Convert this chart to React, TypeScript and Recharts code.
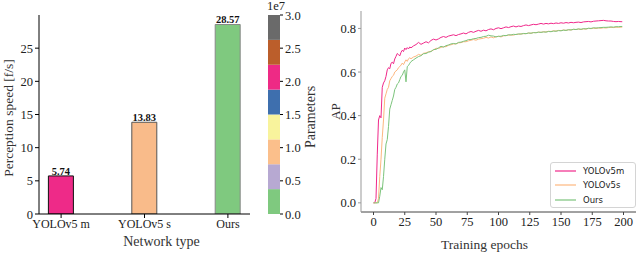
import React from 'react';
import {
  BarChart, Bar, XAxis, YAxis, Cell, LabelList, Label,
  LineChart, Line, Legend,
} from 'recharts';

// ---------- Left panel data ----------
const models = ['YOLOv5 m', 'YOLOv5 s', 'Ours'];
const speeds = [5.74, 13.83, 28.57];
const barColors = ['#ee2a88', '#f9bb8a', '#7fc97f'];
const barEdges = ['#111111', '#555555', '#888888'];
const speedTicks = [0, 5, 10, 15, 20, 25];

// colorbar (units of 1e7)
const cbSegment = [0.375, 0.375, 0.375, 0.375, 0.375, 0.375, 0.375, 0.375];
const cbColors = ['#7fc97f', '#b7a9d2', '#fbbf8b', '#f8f39c', '#3e6fae', '#ee2a85', '#bb5e2b', '#6a6a6a'];
const cbTicks = [0, 0.5, 1.0, 1.5, 2.0, 2.5, 3.0];

// ---------- Right panel data ----------
const epochs = [
  0, 1, 2, 3, 4, 5, 6, 7, 8, 9, 10, 11, 12, 13, 14, 15, 16, 17, 18, 19, 20, 21, 22, 23, 24, 25, 26, 27, 28, 29,
  30, 32, 34, 36, 38, 40, 42, 44, 46, 48, 50, 52, 54, 56, 58, 60, 62, 64, 66, 68, 70, 72, 74, 76, 78, 80,
  82, 84, 86, 88, 90, 92, 94, 96, 98, 100, 102, 104, 106, 108, 110, 112, 114, 116, 118, 120, 122, 124, 126, 128, 130,
  132, 134, 136, 138, 140, 142, 144, 146, 148, 150, 152, 154, 156, 158, 160, 162, 164, 166, 168, 170, 172, 174, 176, 178, 180,
  182, 184, 186, 188, 190, 192, 194, 196, 198, 199,
];
const apYolov5m = [
  0.0, 0.0, 0.02, 0.22, 0.38, 0.40, 0.39, 0.53, 0.55, 0.56, 0.58, 0.61, 0.62, 0.615, 0.64, 0.645, 0.638, 0.66, 0.672, 0.685, 0.68, 0.674, 0.69, 0.70, 0.694, 0.71, 0.703, 0.712, 0.706, 0.715,
  0.711, 0.72, 0.726, 0.736, 0.727, 0.733, 0.739, 0.734, 0.745, 0.751, 0.747, 0.752, 0.759, 0.763, 0.759, 0.765, 0.768, 0.771, 0.767, 0.772, 0.775, 0.779, 0.775, 0.782, 0.786, 0.782,
  0.787, 0.791, 0.787, 0.792, 0.789, 0.795, 0.798, 0.794, 0.80, 0.803, 0.799, 0.803, 0.807, 0.804, 0.808, 0.811, 0.807, 0.811, 0.809, 0.813, 0.816, 0.813, 0.816, 0.819, 0.817,
  0.82, 0.823, 0.82, 0.823, 0.821, 0.824, 0.822, 0.825, 0.823, 0.826, 0.824, 0.827, 0.825, 0.828, 0.826, 0.828, 0.829, 0.827, 0.83, 0.831, 0.832, 0.83, 0.833, 0.834, 0.835,
  0.836, 0.837, 0.835, 0.834, 0.834, 0.832, 0.831, 0.832, 0.831, 0.831,
];
const apYolov5s = [
  0.0, 0.0, 0.0, 0.0, 0.02, 0.12, 0.20, 0.30, 0.38, 0.48, 0.50, 0.52, 0.53, 0.56, 0.57, 0.58, 0.585, 0.60, 0.605, 0.61, 0.62, 0.625, 0.632, 0.641, 0.634, 0.646, 0.656, 0.649, 0.661, 0.665,
  0.661, 0.669, 0.673, 0.681, 0.677, 0.686, 0.688, 0.693, 0.695, 0.701, 0.709, 0.708, 0.713, 0.717, 0.716, 0.723, 0.725, 0.729, 0.729, 0.734, 0.735, 0.739, 0.739, 0.743, 0.746, 0.749,
  0.746, 0.751, 0.753, 0.755, 0.759, 0.756, 0.761, 0.757, 0.762, 0.764, 0.761, 0.766, 0.767, 0.769, 0.77, 0.769, 0.773, 0.773, 0.775, 0.776, 0.776, 0.779, 0.778, 0.781, 0.781,
  0.783, 0.782, 0.785, 0.784, 0.787, 0.786, 0.789, 0.788, 0.791, 0.79, 0.793, 0.791, 0.794, 0.793, 0.796, 0.795, 0.797, 0.795, 0.798, 0.797, 0.8, 0.799, 0.801, 0.8, 0.802,
  0.801, 0.803, 0.802, 0.804, 0.805, 0.804, 0.806, 0.805, 0.806, 0.806,
];
const apOurs = [
  0.0, 0.0, 0.0, 0.0, 0.0, 0.03, 0.07, 0.06, 0.12, 0.20, 0.27, 0.29, 0.35, 0.43, 0.45, 0.47, 0.49, 0.52, 0.53, 0.545, 0.55, 0.565, 0.58, 0.585, 0.60, 0.61, 0.555, 0.625, 0.63, 0.64,
  0.648, 0.656, 0.664, 0.671, 0.675, 0.684, 0.685, 0.691, 0.694, 0.703, 0.704, 0.711, 0.718, 0.714, 0.721, 0.724, 0.729, 0.731, 0.729, 0.736, 0.737, 0.741, 0.744, 0.749, 0.749, 0.753,
  0.754, 0.758, 0.759, 0.763, 0.764, 0.769, 0.766, 0.765, 0.761, 0.764, 0.764, 0.768, 0.767, 0.771, 0.77, 0.773, 0.772, 0.775, 0.774, 0.777, 0.776, 0.779, 0.778, 0.781, 0.78,
  0.783, 0.782, 0.784, 0.783, 0.786, 0.785, 0.788, 0.787, 0.79, 0.789, 0.792, 0.791, 0.794, 0.793, 0.796, 0.795, 0.798, 0.796, 0.799, 0.798, 0.801, 0.8, 0.803, 0.802, 0.803,
  0.804, 0.805, 0.805, 0.806, 0.807, 0.806, 0.808, 0.808, 0.809, 0.809,
];
const seriesNames = ['YOLOv5m', 'YOLOv5s', 'Ours'];
const lineColors = ['#f0288a', '#fdb77f', '#7cc47c'];
const epochTicks = [0, 25, 50, 75, 100, 125, 150, 175, 200];
const apTicks = [0, 0.2, 0.4, 0.6, 0.8];

const barData = models.map((m, i) => ({ x: i, name: m, speed: speeds[i] }));
const cbRow: Record<string, number | string> = { k: 'cb' };
cbSegment.forEach((v, i) => { cbRow['s' + i] = v; });
const cbData = [cbRow];
const lineData = epochs.map((e, i) => ({ epoch: e, m: apYolov5m[i], s: apYolov5s[i], o: apOurs[i] }));

const serif = '"Liberation Serif", "Times New Roman", serif';

// axis tick renderers (serif text at the positions the axis computes)
const makeTick = (fmt: (v: any) => string, kind: 'x' | 'left' | 'right', size = 12.5) => (props: any) => {
  const { x, y, payload } = props;
  const anchor = kind === 'x' ? 'middle' : kind === 'left' ? 'end' : 'start';
  const dy = kind === 'x' ? '0.75em' : '0.36em';
  return (
    <text x={x} y={y} dy={dy} textAnchor={anchor}
      style={{ fontFamily: serif, fontSize: size, fill: '#222' }}>
      {fmt(payload.value)}
    </text>
  );
};
const modelTick = makeTick((v) => models[v] ?? '', 'x', 12);
const speedTick = makeTick((v) => String(v), 'left', 12.5);
const cbTick = makeTick((v) => Number(v).toFixed(1), 'right', 12.5);
const epochTick = makeTick((v) => String(v), 'x', 12.5);
const apTick = makeTick((v) => Number(v).toFixed(1), 'left', 12.5);

const renderLegend = () => (
  <div style={{
    width: 86, height: 46, boxSizing: 'border-box', border: '1px solid #d4d4d4', borderRadius: 3,
    background: '#fff', padding: '1px 0 0 4px', fontFamily: '"DejaVu Sans", sans-serif', fontSize: 8.5, color: '#222',
  }}>
    {seriesNames.map((name, i) => (
      <div key={name} style={{ height: 14.3, display: 'flex', alignItems: 'center' }}>
        <svg width={21} height={8} style={{ flex: 'none' }}>
          <line x1={0} y1={4} x2={21} y2={4} stroke={lineColors[i]} strokeWidth={1.2} />
        </svg>
        <span style={{ marginLeft: 7 }}>{name}</span>
      </div>
    ))}
  </div>
);

const labelStyle = { fontFamily: serif, fontSize: 14, fill: '#333' };

export default function App() {
  return (
    <div style={{ position: 'absolute', left: 0, top: 0, width: 638, height: 256, background: '#fff', fontFamily: serif }}>
      {/* Left: bar chart */}
      <div style={{ position: 'absolute', left: 0, top: 0 }}>
        <BarChart width={330} height={256} data={barData} margin={{ top: 15, right: 80, bottom: 8, left: 0 }}>
          <XAxis
            dataKey="x" type="number" domain={[-0.265, 2.265]} ticks={[0, 1, 2]} interval={0}
            tick={modelTick} tickSize={4} tickMargin={1} stroke="#000" height={34} allowDataOverflow
          >
            <Label value="Network type" position="insideBottom" offset={2} dx={17} style={labelStyle} />
          </XAxis>
          <XAxis xAxisId="top" orientation="top" type="number" domain={[-0.265, 2.265]} tick={false} tickLine={false} height={0} stroke="#000" />
          <YAxis
            domain={[0, 30]} ticks={speedTicks} type="number" allowDataOverflow
            tick={speedTick} tickSize={4} tickMargin={2} stroke="#000" width={39}
          >
            <Label value="Perception speed [f/s]" angle={-90} position="insideLeft" offset={8} dy={3.5}
              style={{ ...labelStyle, fontSize: 13.5, textAnchor: 'middle' }} />
          </YAxis>
          <YAxis yAxisId="right" orientation="right" domain={[0, 30]} tick={false} tickLine={false} width={0} stroke="#000" />
          <Bar dataKey="speed" barSize={25} isAnimationActive={false}>
            {barData.map((d, i) => (
              <Cell key={d.name} fill={barColors[i]} stroke={barEdges[i]} strokeWidth={1} />
            ))}
            <LabelList dataKey="speed" position="top" offset={1}
              formatter={(v: any) => Number(v).toFixed(2)}
              style={{ fontFamily: serif, fontSize: 10.5, fontWeight: 'bold', fill: '#111' }} />
          </Bar>
        </BarChart>
      </div>

      {/* Colorbar */}
      <div style={{ position: 'absolute', left: 268, top: 0 }}>
        <BarChart width={50} height={256} data={cbData} margin={{ top: 15, right: 0, bottom: 42, left: 0 }} barCategoryGap={0}>
          <XAxis dataKey="k" hide />
          <YAxis
            orientation="right" domain={[0, 3]} ticks={cbTicks} type="number" allowDataOverflow
            tick={cbTick} tickSize={3} tickMargin={2}
            axisLine={false} stroke="#000" width={38}
          >
            <Label value="Parameters" angle={-90} position="insideRight" offset={8} dy={2.5}
              style={{ ...labelStyle, textAnchor: 'middle' }} />
          </YAxis>
          {cbSegment.map((_, i) => (
            <Bar key={i} dataKey={'s' + i} stackId="cb" fill={cbColors[i]} isAnimationActive={false} />
          ))}
        </BarChart>
      </div>
      <div style={{ position: 'absolute', left: 267, top: 0, fontSize: 12.5, color: '#222', lineHeight: '12px' }}>1e7</div>

      {/* Right: line chart */}
      <div style={{ position: 'absolute', left: 320, top: 0 }}>
        <LineChart width={318} height={256} data={lineData} margin={{ top: 11, right: 2, bottom: 10, left: 0 }}>
          <XAxis
            dataKey="epoch" type="number" domain={[-10, 210]} ticks={epochTicks} interval={0} allowDataOverflow
            tick={epochTick} tickSize={3} tickMargin={2} stroke="#444" height={34}
          >
            <Label value="Training epochs" position="insideBottom" offset={-3} dx={-14} style={{ ...labelStyle, fontSize: 13.5 }} />
          </XAxis>
          <XAxis xAxisId="top" orientation="top" type="number" domain={[-10, 210]} tick={false} tickLine={false} height={0} stroke="#000" />
          <YAxis
            type="number" domain={[-0.042, 0.88]} ticks={apTicks} allowDataOverflow
            tick={apTick} tickSize={3} tickMargin={2}
            stroke="#999" width={41}
          >
            <Label value="AP" angle={-90} position="insideLeft" offset={15}
              style={{ ...labelStyle, fontSize: 13, textAnchor: 'middle' }} />
          </YAxis>
          <YAxis yAxisId="right" orientation="right" domain={[-0.042, 0.88]} tick={false} tickLine={false} width={0} stroke="#999" />
          <Legend layout="vertical" align="center" verticalAlign="middle" content={renderLegend}
            wrapperStyle={{ position: 'absolute', left: 230, top: 162, width: 86, height: 46 }} />
          <Line dataKey="m" name={seriesNames[0]} stroke={lineColors[0]} strokeWidth={1} dot={false} isAnimationActive={false} />
          <Line dataKey="s" name={seriesNames[1]} stroke={lineColors[1]} strokeWidth={1} dot={false} isAnimationActive={false} />
          <Line dataKey="o" name={seriesNames[2]} stroke={lineColors[2]} strokeWidth={1} dot={false} isAnimationActive={false} />
        </LineChart>
      </div>
    </div>
  );
}
